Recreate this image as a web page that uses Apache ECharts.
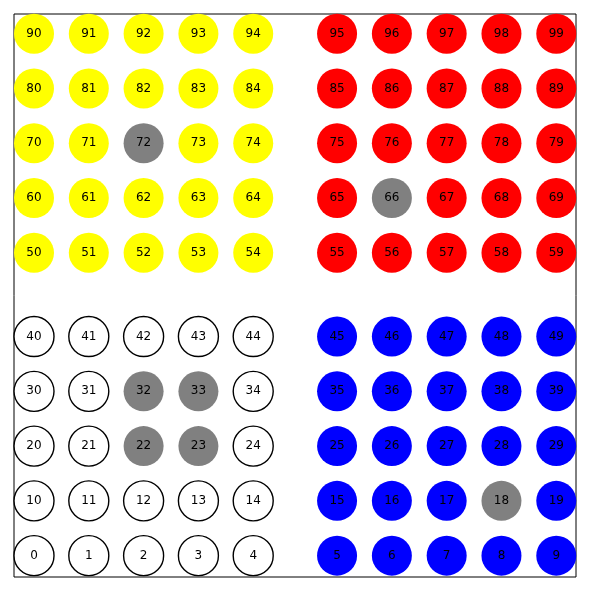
<!DOCTYPE html>
<html>
<head>
<meta charset="utf-8">
<script src="https://cdn.jsdelivr.net/npm/echarts@6/dist/echarts.min.js"></script>
<style>
html,body{margin:0;padding:0;background:#fff;}
#chart{width:589px;height:590px;}
</style>
</head>
<body>
<div id="chart"></div>
<script>
// Column and row positions (data units)
const xPositions = [0, 1, 2, 3, 4, 5.53, 6.53, 7.53, 8.53, 9.53];
const yPositions = [0, 1, 2, 3, 4, 5.53, 6.53, 7.53, 8.53, 9.53];
// Cell numbers that are grey
const greyCells = [18, 22, 23, 32, 33, 66, 72];
// Quadrant colours
const lowerLeftColor = '#ffffff';
const lowerRightColor = '#0000ff';
const upperLeftColor = '#ffff00';
const upperRightColor = '#ff0000';
const greyColor = '#808080';

const points = [];
for (let r = 0; r < yPositions.length; r++) {
  for (let c = 0; c < xPositions.length; c++) {
    const n = r * 10 + c;
    let color;
    if (r < 5) color = c < 5 ? lowerLeftColor : lowerRightColor;
    else color = c < 5 ? upperLeftColor : upperRightColor;
    if (greyCells.includes(n)) color = greyColor;
    const outlined = color === lowerLeftColor;
    points.push({
      value: [xPositions[c], yPositions[r], n],
      itemStyle: {
        color: color,
        opacity: 1,
        borderColor: outlined ? '#000000' : color,
        borderWidth: outlined ? 1.4 : 0
      }
    });
  }
}

const chart = echarts.init(document.getElementById('chart'), null, {renderer: 'canvas'});
chart.setOption({
  animation: false,
  backgroundColor: '#ffffff',
  grid: {
    left: 14, top: 14, width: 562, height: 563,
    show: true, borderColor: '#000000', borderWidth: 1, backgroundColor: 'transparent'
  },
  xAxis: {
    type: 'value', min: -0.365, max: 9.89,
    axisLine: {show: false}, axisTick: {show: false},
    axisLabel: {show: false}, splitLine: {show: false}
  },
  yAxis: {
    type: 'value', min: -0.39, max: 9.89,
    axisLine: {show: false}, axisTick: {show: false},
    axisLabel: {show: false}, splitLine: {show: false}
  },
  series: [{
    type: 'scatter',
    clip: true,
    symbol: 'circle',
    symbolSize: 40,
    itemStyle: {opacity: 1},
    data: points,
    label: {
      show: true,
      position: 'inside',
      formatter: p => String(p.value[2]),
      color: '#000000',
      fontSize: 12,
      fontFamily: 'DejaVu Sans'
    },
    emphasis: {disabled: true}
  }]
});
</script>
</body>
</html>
